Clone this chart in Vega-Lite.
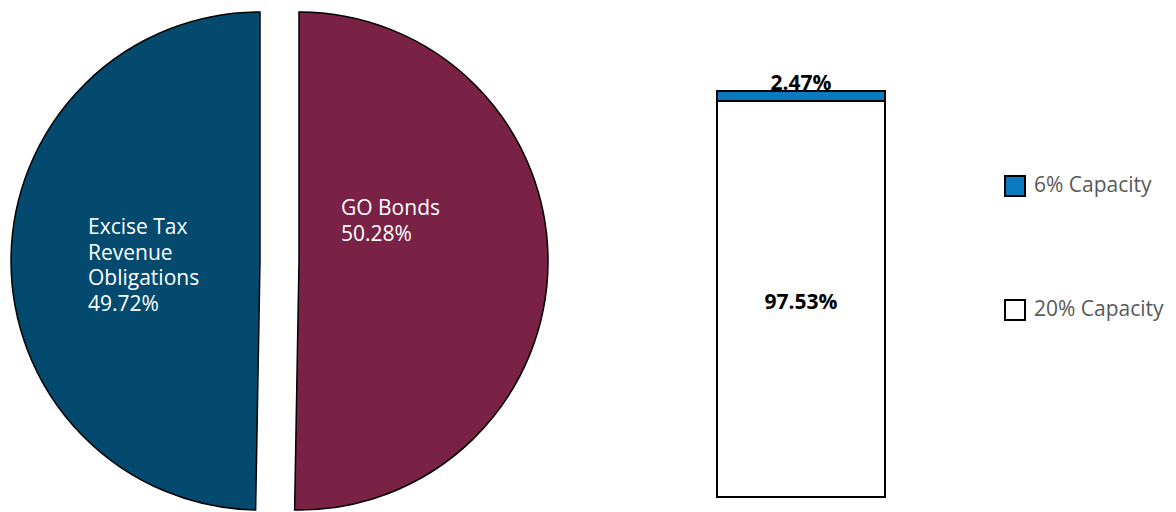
{
  "$schema": "https://vega.github.io/schema/vega-lite/v6.json",
  "padding": 0,
  "background": "white",
  "spacing": 157,
  "config": {"view": {"stroke": null}, "font": "Open Sans"},
  "resolve": {"scale": {"color": "independent"}, "legend": {"color": "independent"}},
  "hconcat": [
    {
      "width": 559,
      "height": 512,
      "data": {"values": [
        {"source": "GO Bonds", "name": "GO Bonds", "pct": 50.28},
        {"source": "Excise Tax Revenue Obligations", "name": "Excise Tax\nRevenue\nObligations", "pct": 49.72}
      ]},
      "transform": [
        {"calculate": "datum.name + '\\n' + format(datum.pct, '.2f') + '%'", "as": "label"}
      ],
      "encoding": {
        "theta": {"field": "pct", "type": "quantitative", "stack": true},
        "order": {"field": "source", "sort": "descending"}
      },
      "layer": [
        {
          "mark": {"type": "arc", "outerRadius": 249, "xOffset": -19.5, "yOffset": 5, "stroke": "black", "strokeWidth": 1.5, "fill": "#034A6E"},
          "encoding": {"opacity": {"condition": {"test": "datum.source !== 'GO Bonds'", "value": 1}, "value": 0}}
        },
        {
          "mark": {"type": "arc", "outerRadius": 249, "xOffset": 19.5, "yOffset": 5, "stroke": "black", "strokeWidth": 1.5, "fill": "#7A2245"},
          "encoding": {"opacity": {"condition": {"test": "datum.source === 'GO Bonds'", "value": 1}, "value": 0}}
        },
        {
          "mark": {"type": "text", "radius": 172, "xOffset": -19.5, "yOffset": 5, "align": "left", "baseline": "middle", "dy": -31, "fontSize": 21, "fill": "white", "lineBreak": "\n", "lineHeight": 25.5},
          "encoding": {
            "text": {"field": "label"},
            "opacity": {"condition": {"test": "datum.source !== 'GO Bonds'", "value": 1}, "value": 0}
          }
        },
        {
          "mark": {"type": "text", "radius": 42, "xOffset": 19.5, "yOffset": 5, "align": "left", "baseline": "middle", "dy": -52, "fontSize": 21, "fill": "white", "lineBreak": "\n", "lineHeight": 25.5},
          "encoding": {
            "text": {"field": "label"},
            "opacity": {"condition": {"test": "datum.source === 'GO Bonds'", "value": 1}, "value": 0}
          }
        }
      ]
    },
    {
      "width": 168,
      "height": 512,
      "data": {"values": [
        {"cap": "6% Capacity", "pct": 2.47},
        {"cap": "20% Capacity", "pct": 97.53}
      ]},
      "transform": [
        {"stack": "pct", "groupby": [], "sort": [{"field": "cap", "order": "ascending"}], "as": ["lo", "hi"]},
        {"calculate": "(datum.lo + datum.hi) / 2", "as": "mid"},
        {"calculate": "format(datum.pct, '.2f') + '%'", "as": "txt"}
      ],
      "layer": [
        {
          "mark": {"type": "bar", "stroke": "black", "strokeWidth": 2},
          "encoding": {
            "x": {"datum": "b", "type": "nominal", "axis": null, "scale": {"paddingInner": 0, "paddingOuter": 0}},
            "y": {"field": "lo", "type": "quantitative", "axis": null, "scale": {"domain": [0, 100], "range": [497, 91]}},
            "y2": {"field": "hi"},
            "color": {
              "field": "cap", "type": "nominal",
              "scale": {"domain": ["6% Capacity", "20% Capacity"], "range": ["#0A79BF", "#FFFFFF"]},
              "legend": {"title": null, "orient": "none", "legendX": 287, "legendY": 175, "symbolType": "square", "symbolSize": 400, "symbolStrokeColor": "black", "symbolStrokeWidth": 2, "symbolOpacity": 1, "labelFontSize": 21, "labelColor": "#595959", "labelFont": "Open Sans", "rowPadding": 96, "labelOffset": 8}
            }
          }
        },
        {
          "transform": [{"filter": "datum.cap === '20% Capacity'"}],
          "mark": {"type": "text", "fontWeight": "bold", "fontSize": 21, "baseline": "middle", "dy": 4, "fill": "black"},
          "encoding": {"y": {"field": "mid", "type": "quantitative"}, "text": {"field": "txt"}}
        },
        {
          "transform": [{"filter": "datum.cap === '6% Capacity'"}],
          "mark": {"type": "text", "fontWeight": "bold", "fontSize": 21, "baseline": "middle", "dy": -7, "fill": "black"},
          "encoding": {"y": {"field": "hi", "type": "quantitative"}, "text": {"field": "txt"}}
        }
      ]
    }
  ]
}
